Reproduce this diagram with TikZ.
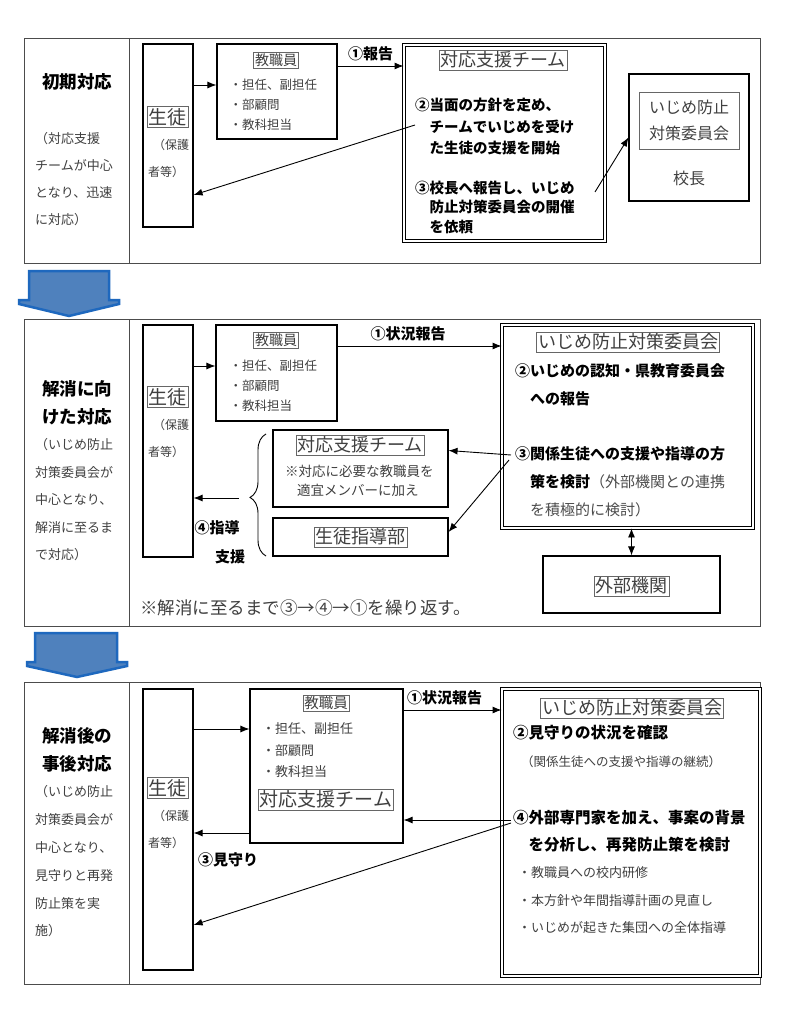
\documentclass[tikz,border=0pt]{standalone}
\usepackage{fontspec}
\setmainfont{Noto Sans CJK JP}
\usetikzlibrary{arrows.meta, calc, decorations.pathreplacing}
\newcommand{\jfs}[2]{\fontsize{#1}{#2}\selectfont}
\definecolor{arrowfill}{RGB}{79,129,189}
\definecolor{arrowline}{RGB}{30,104,190}

\begin{document}
\begin{tikzpicture}[x=1pt, y=-1pt, >={Latex[length=9pt,width=7pt]},
		frame/.style={
			draw=black!70,
			line width=0.8pt,
		}, box/.style={
			draw,
			line width=1.1pt,
			inner sep=0,
		}, dbox/.style={
			draw,
			double,
			double distance=2pt,
			line width=0.9pt,
			inner sep=0,
		}, lbl/.style={
			draw=black!60,
			line width=0.5pt,
			inner sep=1.5pt,
			text=black!75,
		}, txt/.style={
			inner sep=0,
			anchor=west,
			align=left,
			text=black!75,
		}, bld/.style={
			inner sep=0,
			anchor=west,
			align=left,
		}, hdr/.style={
			inner sep=0,
			align=center,
			font=\bfseries\jfs{17.5}{28},
		}, conn/.style={
			->,
			line width=0.9pt,
		}, blue arrow/.style={
			fill=arrowfill,
			draw=arrowline,
			line width=2.5pt,
			line join=miter,
		}, ]

\fill[white] (0,0) rectangle (794,1024);
\useasboundingbox (0,0) rectangle (794,1024);

% ------ 初期対応 ------- %
\draw[frame] (24,38) rectangle (760,263);
\draw[frame] (129,38) -- (129,263);
\node[hdr] (h1) at (77,82) {初期対応};
\node[txt, font=\jfs{13}{27}] (n1) at (35,179) {（対応支援\\チームが中心\\となり、迅速\\に対応）};

\node[box, minimum width=50, minimum height=183] (stuA) at (168,135.5) {};
\node[lbl, font=\jfs{19}{19}] (stuAl) at (167.5,117) {生徒};
\node[txt, font=\jfs{12}{27}] (stuAn) at (148,158.5) {\hspace*{5pt}（保護\\者等）};

\node[box, minimum width=120, minimum height=95] (staffA) at (277,91.5) {};
\node[lbl, font=\jfs{14}{14}] (staffAl) at (276,60) {教職員};
\node[txt, font=\jfs{12.5}{20}] (staffAi) at (229.5,105) {・担任、副担任\\・部顧問\\・教科担当};

\node[dbox, minimum width=201, minimum height=196] (teamA) at (504.5,143) {};
\node[lbl, font=\jfs{18}{18}] (teamAl) at (503,60) {対応支援チーム};
\node[bld, font=\bfseries\jfs{14.5}{21.3}] (teamA2) at (415,126.5) {②当面の方針を定め、\\\hspace*{1em}チームでいじめを受け\\\hspace*{1em}た生徒の支援を開始};
\node[bld, font=\bfseries\jfs{14.5}{19.5}] (teamA3) at (415,207.5) {③校長へ報告し、いじめ\\\hspace*{1em}防止対策委員会の開催\\\hspace*{1em}を依頼};

\node[box, minimum width=120, minimum height=127] (princA) at (689,137.5) {};
\node[lbl, minimum width=100, minimum height=57, align=center, font=\jfs{16}{26}] (princAl) at (689,120.5) {いじめ防止\\対策委員会};
\node[txt, anchor=center, font=\jfs{16}{16}] (princAn) at (689,178) {校長};

\draw[conn] ([yshift=6.5pt]staffA.west -| stuA.east) -- ([yshift=6.5pt]staffA.west);
\draw[conn] ([yshift=25.5pt]staffA.east) -- node[above=1pt, font=\bfseries\jfs{15}{15}] (rep1) {①報告} ([yshift=25.5pt]staffA.east -| teamA.west);
\coordinate (srcA2) at (415,125);
\draw[conn] (srcA2) -- ([yshift=-59.5pt]stuA.east);
\coordinate (srcA3) at (595,192);
\draw[conn] (srcA3) -- (princA.west);

% ------ arrow down ------- %
\draw[blue arrow] (29,271) -- (109,271) -- (109,300) -- (119,300) -- (119,304) -- (69,316) -- (19,304) -- (19,300) -- (29,300) -- cycle;

% ------ 解消に向けた対応 ------- %
\draw[frame] (24,319) rectangle (760,626);
\draw[frame] (129,319) -- (129,626);
\node[hdr] (h2) at (77,403) {解消に向\\けた対応};
\node[txt, font=\jfs{13}{27.5}] (n2) at (35,500) {（いじめ防止\\対策委員会が\\中心となり、\\解消に至るま\\で対応）};

\node[box, minimum width=50, minimum height=232] (stuB) at (168,441) {};
\node[lbl, font=\jfs{19}{19}] (stuBl) at (167.5,397) {生徒};
\node[txt, font=\jfs{12}{27}] (stuBn) at (148,438.5) {\hspace*{5pt}（保護\\者等）};

\node[box, minimum width=121, minimum height=96] (staffB) at (276.5,373) {};
\node[lbl, font=\jfs{14}{14}] (staffBl) at (276,340) {教職員};
\node[txt, font=\jfs{12.5}{20}] (staffBi) at (229.5,386) {・担任、副担任\\・部顧問\\・教科担当};

\node[dbox, minimum width=251, minimum height=203] (cmtB) at (627.5,426.5) {};
\node[lbl, font=\jfs{18}{18}] (cmtBl) at (628,342) {いじめ防止対策委員会};
\node[bld, font=\bfseries\jfs{15}{28}] (cmtB2) at (515,385) {②いじめの認知・県教育委員会\\\hspace*{1em}への報告};
\node[bld, font=\bfseries\jfs{15}{28}] (cmtB3) at (515,482) {③関係生徒への支援や指導の方\\\hspace*{1em}策を検討{\mdseries\color{black!70}（外部機関との連携}\\\hspace*{1em}{\mdseries\color{black!70}を積極的に検討）}};

\node[box, minimum width=177, minimum height=57] (extB) at (631.5,584.5) {};
\node[lbl, font=\jfs{18}{18}] (extBl) at (631.5,586) {外部機関};

\node[box, minimum width=175, minimum height=77] (teamB) at (360.5,468.5) {};
\node[lbl, font=\jfs{18}{18}] (teamBl) at (360,445) {対応支援チーム};
\node[txt, font=\jfs{13.5}{19}] (teamBn) at (285,480.5) {※対応に必要な教職員を\\\hspace*{12pt}適宜メンバーに加え};

\node[box, minimum width=175, minimum height=38] (guideB) at (360.5,537) {};
\node[lbl, font=\jfs{18}{18}] (guideBl) at (360.5,537) {生徒指導部};

\draw[line width=0.9pt, decorate, decoration={brace, amplitude=16pt, aspect=0.48}] (266,556) -- (266,434);
\coordinate (brtip) at (239,498);

\draw[conn] ([yshift=7pt]staffB.west -| stuB.east) -- ([yshift=7pt]staffB.west);
\draw[conn] ([yshift=27pt]staffB.east) -- node[above=1pt, pos=0.43, font=\bfseries\jfs{15}{15}] (rep2) {①状況報告} ([yshift=27pt]staffB.east -| cmtB.west);
\coordinate (srcB3) at (511,455);
\draw[conn] (srcB3) -- ([yshift=18pt]teamB.east);
\coordinate (srcB4) at (509,460);
\draw[conn] (srcB4) -- ([yshift=5pt]guideB.east);
\draw[conn, <->] (cmtB.south -| extB.north) -- (extB.north);
\draw[conn] (brtip) -- (brtip -| stuB.east);
\node[bld, anchor=center, font=\bfseries\jfs{15}{15}] (guide4) at (217,528) {④指導};
\node[bld, anchor=center, font=\bfseries\jfs{15}{15}] (guide4b) at (230,557) {支援};
\node[txt, font=\jfs{17.5}{17.5}] (loopB) at (140,608) {※解消に至るまで③→④→①を繰り返す。};

% ------ arrow down ------- %
\draw[blue arrow] (35,633) -- (117,633) -- (117,662) -- (127,662) -- (127,666) -- (77,677) -- (27,666) -- (27,662) -- (35,662) -- cycle;

% ------ 解消後の事後対応 ------- %
\draw[frame] (24,682) rectangle (760,984);
\draw[frame] (129,682) -- (129,984);
\node[hdr] (h3) at (77,749.5) {解消後の\\事後対応};
\node[txt, font=\jfs{13}{27.8}] (n3) at (35,861.5) {（いじめ防止\\対策委員会が\\中心となり、\\見守りと再発\\防止策を実\\施）};

\node[box, minimum width=50, minimum height=281] (stuC) at (168,829.5) {};
\node[lbl, font=\jfs{19}{19}] (stuCl) at (167.5,788) {生徒};
\node[txt, font=\jfs{12}{27}] (stuCn) at (148,829) {\hspace*{5pt}（保護\\者等）};

\node[box, minimum width=153, minimum height=154] (staffC) at (326.5,766) {};
\node[lbl, font=\jfs{14.5}{14.5}] (staffCl) at (326,703) {教職員};
\node[txt, font=\jfs{13}{21.5}] (staffCi) at (262,750.5) {・担任、副担任\\・部顧問\\・教科担当};
\node[lbl, font=\jfs{19}{19}] (staffCt) at (326,799.5) {対応支援チーム};

\node[dbox, minimum width=258, minimum height=287] (cmtC) at (631,832.5) {};
\node[lbl, font=\jfs{18}{18}] (cmtCl) at (632,708) {いじめ防止対策委員会};
\node[bld, font=\bfseries\jfs{15.5}{15.5}] (cmtC2) at (513,733) {②見守りの状況を確認};
\node[txt, font=\jfs{12.5}{12.5}] (cmtC2n) at (521,762) {（関係生徒への支援や指導の継続）};
\node[bld, font=\bfseries\jfs{15.5}{27}] (cmtC4) at (513,831.5) {④外部専門家を加え、事案の背景\\\hspace*{1em}を分析し、再発防止策を検討};
\node[txt, font=\jfs{13}{27.5}] (cmtC4i) at (518,900.5) {・教職員への校内研修\\・本方針や年間指導計画の見直し\\・いじめが起きた集団への全体指導};

\draw[conn] ([yshift=37pt]staffC.west -| stuC.east) -- ([yshift=37pt]staffC.west);
\draw[conn] ([yshift=-67pt]staffC.west) -- ([yshift=-67pt]staffC.west -| stuC.east);
\draw[conn] ([yshift=56pt]staffC.east) -- node[above=1pt, pos=0.42, font=\bfseries\jfs{15}{15}] (rep3) {①状況報告} ([yshift=56pt]staffC.east -| cmtC.west);
\coordinate (srcC4) at (511,820);
\draw[conn] (srcC4) -- (srcC4 -| staffC.east);
\coordinate (srcC5) at (511,823);
\draw[conn] (srcC5) -- ([yshift=-95.5pt]stuC.east);
\node[bld, anchor=center, font=\bfseries\jfs{15}{15}] (watch3) at (228,860) {③見守り};

\end{tikzpicture}
\end{document}
